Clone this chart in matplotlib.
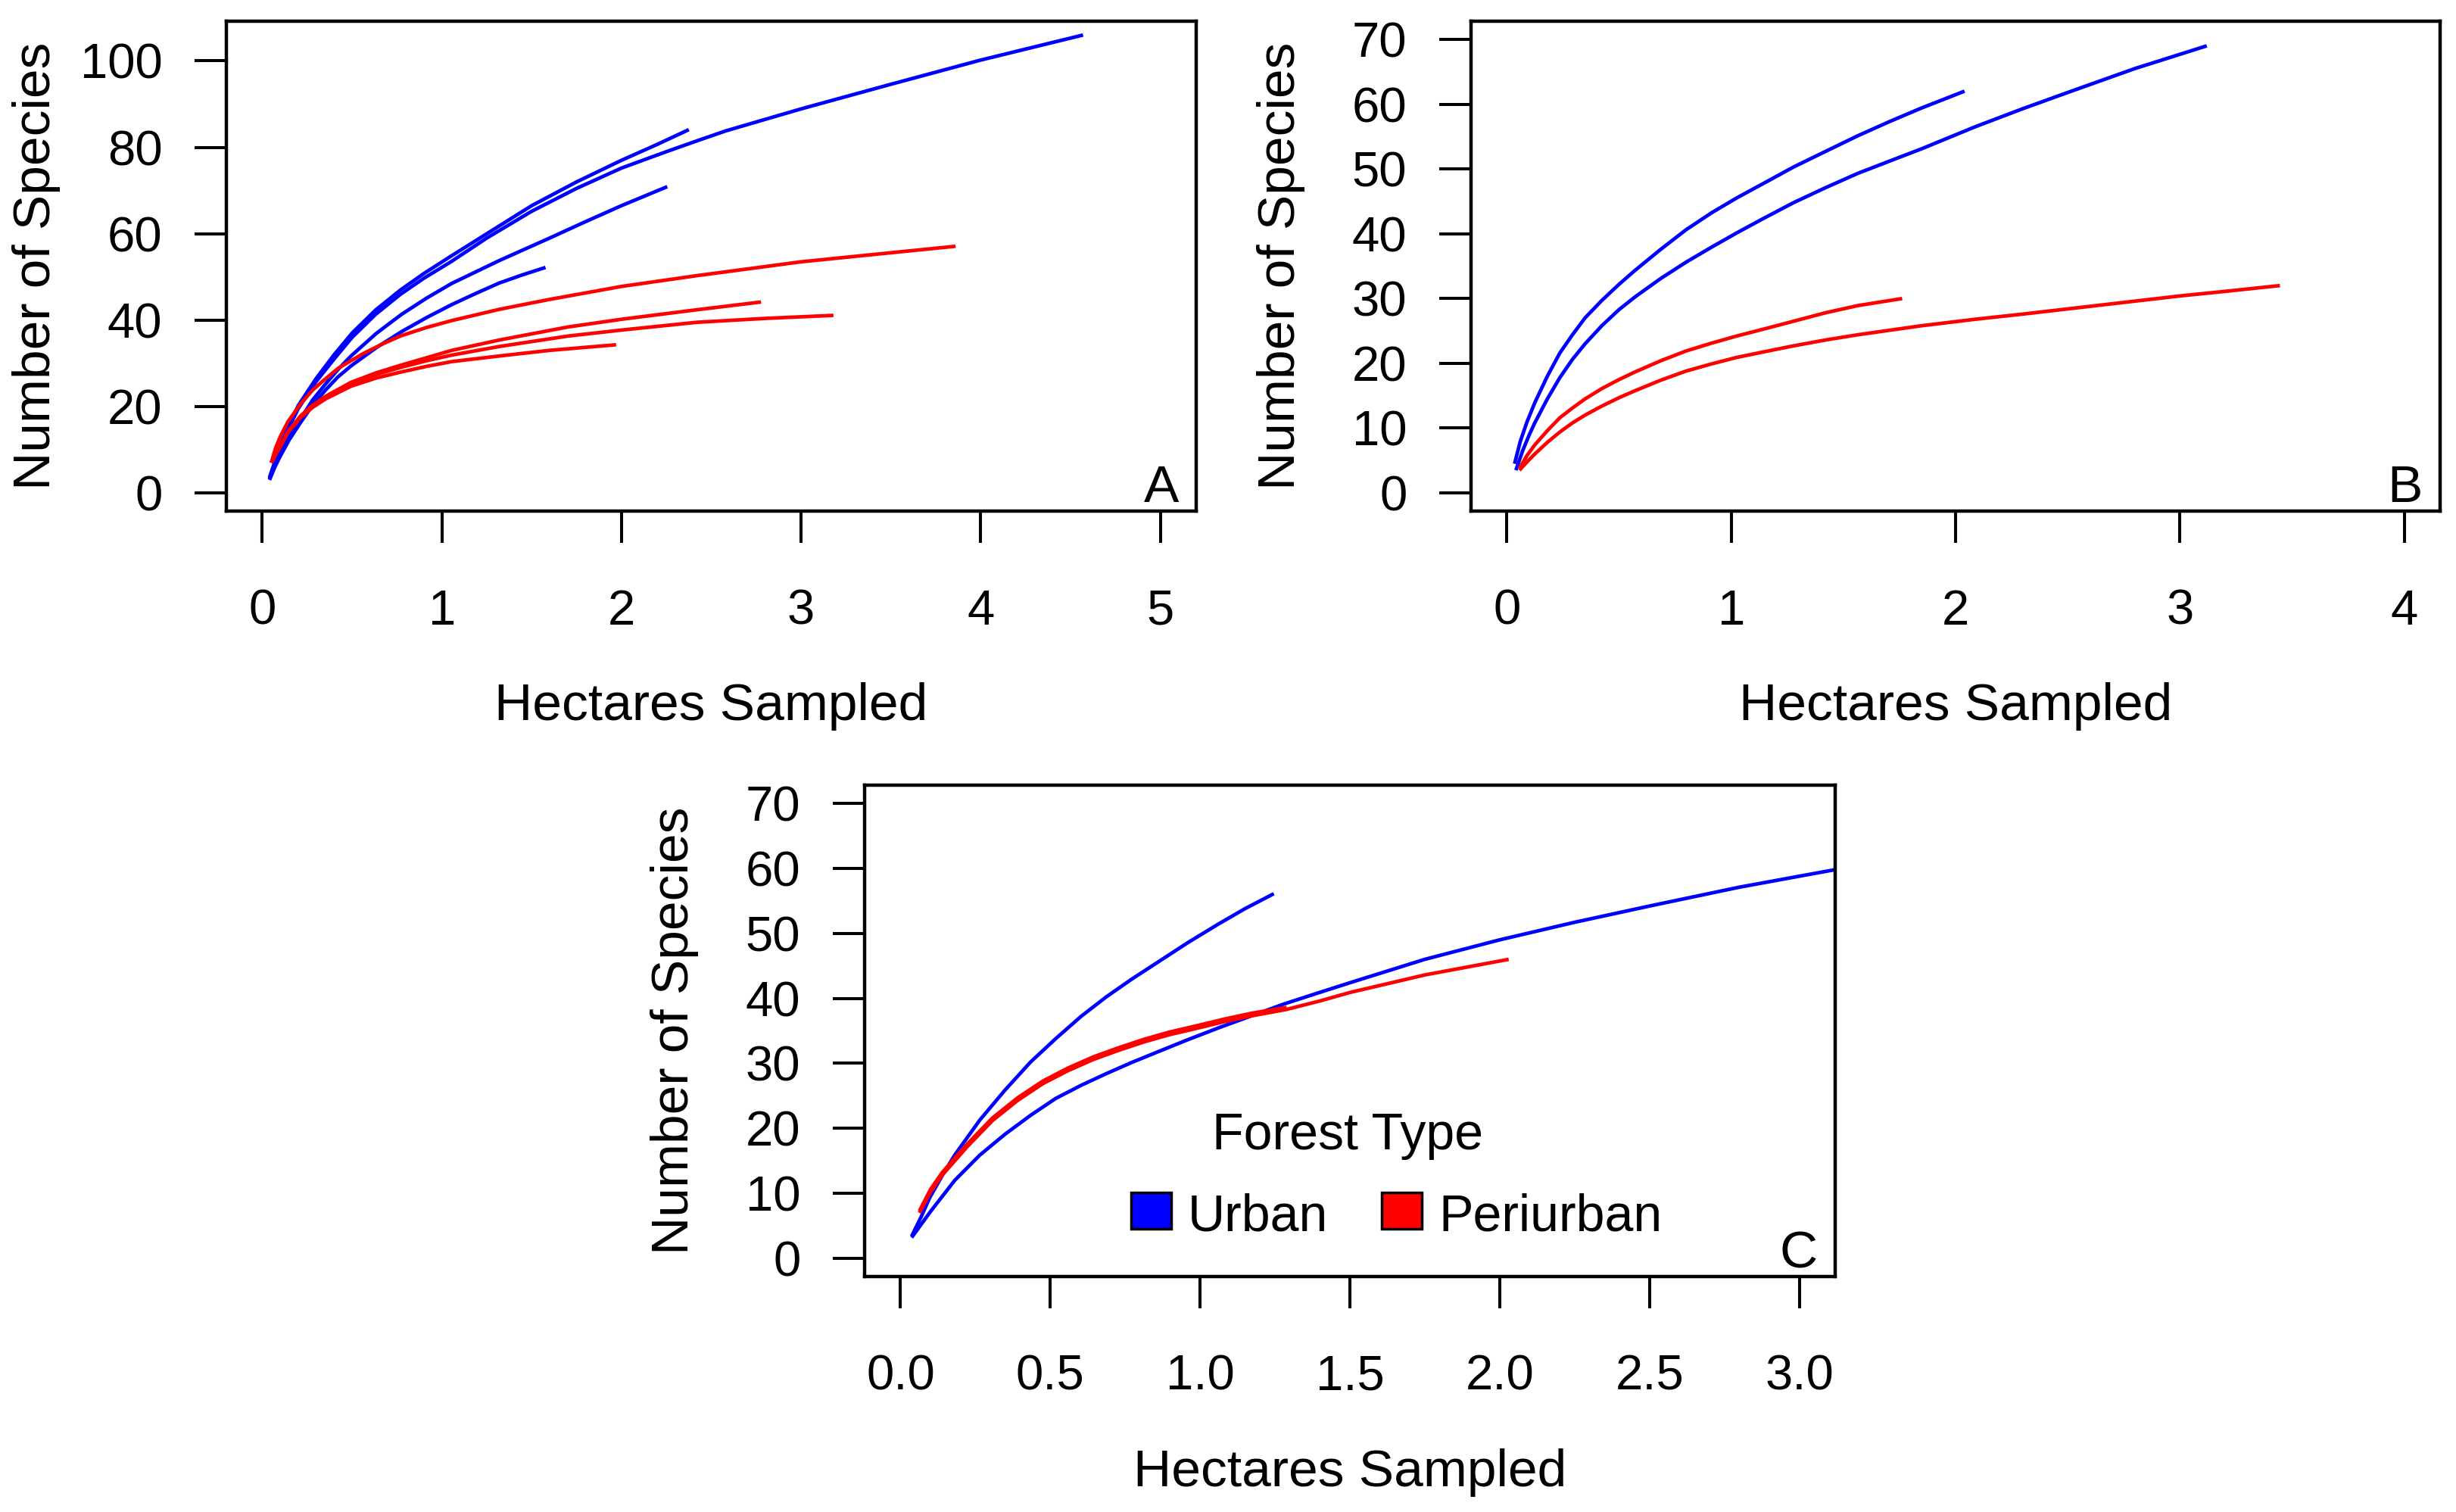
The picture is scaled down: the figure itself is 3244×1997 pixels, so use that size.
import matplotlib
matplotlib.use("Agg")
import matplotlib.pyplot as plt
from matplotlib.patches import Rectangle

plt.rcParams['font.family'] = ['Liberation Sans', 'DejaVu Sans']

# ---- panel A: rarefaction curves (hectares sampled, number of species) ----
a_urban_x = [
    [0.04, 0.07, 0.1, 0.15, 0.2, 0.3, 0.4, 0.5, 0.63, 0.77, 0.9, 1.05, 1.25, 1.5,
     1.75, 2.0, 2.25, 2.42, 2.58, 3.0, 3.5, 4.0, 4.57],
    [0.04, 0.07, 0.1, 0.15, 0.2, 0.3, 0.4, 0.5, 0.63, 0.77, 0.9, 1.05, 1.25, 1.5,
     1.75, 2.0, 2.2, 2.375],
    [0.04, 0.07, 0.1, 0.15, 0.213, 0.28, 0.354, 0.42, 0.494, 0.634, 0.774, 0.915,
     1.055, 1.32, 1.6, 1.8, 2.0, 2.255],
    [0.04, 0.07, 0.1, 0.15, 0.213, 0.28, 0.354, 0.42, 0.494, 0.634, 0.774, 0.915,
     1.055, 1.19, 1.32, 1.45, 1.577],
]
a_urban_y = [
    [3.5, 7, 10.5, 15.3, 19.5, 25.8, 31, 36, 41.3, 46, 49.7, 53.5, 59, 65.2,
     70.5, 75.2, 79, 81.5, 83.8, 88.9, 94.6, 100.2, 106],
    [3.5, 7.3, 11, 15.8, 20.2, 26.5, 32, 37, 42.3, 47, 50.8, 54.8, 60, 66.5,
     72, 77, 80.7, 84.1],
    [3.2, 6.3, 9, 13, 17.1, 21.5, 25.3, 28.5, 31.7, 36.9, 41.3, 45.1,
     48.5, 53.8, 59, 62.8, 66.5, 70.9],
    [3, 6, 8.5, 12.3, 16.3, 20.3, 23.9, 26.8, 29.4, 33.6, 37.3, 40.6,
     43.6, 46.2, 48.6, 50.5, 52.2],
]
a_peri_x = [
    [0.05, 0.075, 0.1, 0.143, 0.213, 0.28, 0.34, 0.424, 0.564, 0.67, 0.774, 0.915,
     1.055, 1.32, 1.6, 2.0, 2.42, 3.0, 3.5, 3.86],
    [0.05, 0.075, 0.1, 0.143, 0.213, 0.28, 0.354, 0.494, 0.634, 0.774, 0.915,
     1.055, 1.32, 1.7, 2.0, 2.42, 2.777],
    [0.05, 0.075, 0.1, 0.143, 0.213, 0.28, 0.354, 0.494, 0.634, 0.774, 0.915,
     1.055, 1.32, 1.7, 2.0, 2.42, 2.8, 3.18],
    [0.05, 0.075, 0.1, 0.143, 0.213, 0.28, 0.354, 0.494, 0.634, 0.774, 0.915,
     1.055, 1.32, 1.6, 1.97],
]
a_peri_y = [
    [7, 10.5, 13, 16.5, 20.6, 23.8, 26, 28.9, 32.3, 34.5, 36.4, 38.3,
     39.9, 42.5, 44.8, 47.8, 50.3, 53.5, 55.6, 57.1],
    [7, 9, 10.8, 14.2, 17.8, 20.3, 22.4, 25.6, 27.8, 29.6, 31.3,
     33.0, 35.4, 38.4, 40.2, 42.4, 44.2],
    [7, 9, 10.8, 14.1, 17.6, 20.1, 22.2, 25.3, 27.4, 29.1, 30.6,
     31.9, 33.9, 36.3, 37.7, 39.5, 40.4, 41.1],
    [7, 9, 10.7, 14, 17.4, 19.8, 21.8, 24.7, 26.6, 28, 29.3,
     30.4, 31.7, 33.0, 34.3],
]

# ---- panel B ----
b_urban_x = [
    [0.034, 0.06, 0.09, 0.124, 0.18, 0.236, 0.292, 0.348, 0.423, 0.5, 0.573, 0.686,
     0.798, 0.911, 1.023, 1.135, 1.278, 1.42, 1.563, 1.705, 1.848, 2.04],
    [0.04, 0.07, 0.1, 0.124, 0.18, 0.236, 0.292, 0.348, 0.423, 0.5, 0.573, 0.686,
     0.798, 0.911, 1.023, 1.135, 1.278, 1.42, 1.563, 1.705, 1.848, 2.087, 2.3,
     2.5, 2.8, 3.12],
]
b_urban_y = [
    [4.5, 8, 11, 13.9, 18, 21.6, 24.4, 27.0, 29.7, 32.2, 34.4, 37.6,
     40.6, 43.2, 45.5, 47.6, 50.3, 52.7, 55.1, 57.3, 59.4, 62.0],
    [3.5, 6.5, 9, 10.8, 14.5, 17.8, 20.6, 23, 25.8, 28.3, 30.3, 33.1,
     35.6, 37.9, 40.1, 42.2, 44.8, 47.1, 49.3, 51.2, 53.1, 56.5, 59.3,
     61.8, 65.5, 69.0],
]
b_peri_x = [
    [0.056, 0.09, 0.124, 0.18, 0.236, 0.292, 0.348, 0.423, 0.5, 0.573, 0.686,
     0.798, 0.911, 1.023, 1.135, 1.278, 1.42, 1.563, 1.762],
    [0.056, 0.09, 0.124, 0.18, 0.236, 0.292, 0.348, 0.423, 0.5, 0.573, 0.686,
     0.798, 0.911, 1.023, 1.135, 1.278, 1.42, 1.563, 1.705, 1.848, 2.087, 2.3,
     2.5, 2.75, 3.0, 3.2, 3.446],
]
b_peri_y = [
    [3.8, 5.8, 7.4, 9.6, 11.6, 13.1, 14.5, 16.1, 17.5, 18.7, 20.4,
     21.9, 23.1, 24.2, 25.2, 26.5, 27.8, 28.9, 30.0],
    [3.5, 4.8, 6.0, 7.8, 9.4, 10.8, 12.0, 13.4, 14.7, 15.8, 17.4,
     18.8, 19.9, 20.9, 21.7, 22.7, 23.6, 24.4, 25.1, 25.8, 26.8, 27.6,
     28.4, 29.4, 30.4, 31.1, 32.0],
]

# ---- panel C ----
c_urban_x = [
    [0.037, 0.07, 0.097, 0.14, 0.181, 0.265, 0.349, 0.434, 0.518, 0.602, 0.686,
     0.77, 0.86, 0.96, 1.06, 1.15, 1.246],
    [0.037, 0.07, 0.1, 0.181, 0.265, 0.349, 0.434, 0.518, 0.602, 0.686, 0.77,
     0.855, 0.957, 1.064, 1.171, 1.278, 1.385, 1.5, 1.75, 2.0, 2.25, 2.5, 2.8, 3.12],
]
c_urban_y = [
    [3.4, 6.5, 9.3, 12.8, 15.9, 21.3, 25.9, 30.2, 33.8, 37.2, 40.2,
     42.9, 45.6, 48.6, 51.4, 53.8, 56.1],
    [3.2, 5.3, 7.2, 12, 15.9, 19.1, 22, 24.6, 26.6, 28.4, 30.1,
     31.7, 33.6, 35.5, 37.3, 39.1, 40.7, 42.4, 46.0, 49.0, 51.7, 54.2, 57.1, 59.8],
]
c_peri_x = [
    [0.063, 0.1, 0.139, 0.223, 0.307, 0.391, 0.476, 0.56, 0.644, 0.728, 0.813,
     0.897, 0.99, 1.08, 1.171, 1.289],
    [0.063, 0.1, 0.139, 0.223, 0.307, 0.391, 0.476, 0.56, 0.644, 0.728, 0.813,
     0.897, 0.99, 1.08, 1.171, 1.289, 1.4, 1.5, 1.75, 2.03],
]
c_peri_y = [
    [7.3, 10.6, 13.2, 17.6, 21.6, 24.7, 27.3, 29.3, 31.0, 32.4, 33.7,
     34.8, 35.8, 36.8, 37.7, 38.6],
    [7.0, 10.2, 12.8, 17.2, 21.2, 24.3, 26.9, 28.9, 30.6, 32.0, 33.3,
     34.4, 35.4, 36.4, 37.3, 38.3, 39.6, 40.9, 43.6, 46.0],
]

URBAN = '#0000FF'
PERI = '#FF0000'
W, H = 3244, 1997

fig = plt.figure(figsize=(W / 100, H / 100), dpi=100)


def px_axes(left, top, right, bottom):
    return fig.add_axes([left / W, 1 - bottom / H, (right - left) / W, (bottom - top) / H])


def style(ax, xlim, ylim, xticks, yticks, xlabels, letter):
    ax.set_xlim(*xlim)
    ax.set_ylim(*ylim)
    ax.set_xticks(xticks)
    ax.set_xticklabels(xlabels)
    ax.set_yticks(yticks)
    for s in ax.spines.values():
        s.set_linewidth(3.2)
        s.set_color('black')
    ax.tick_params(direction='out', length=30, width=2.9, labelsize=47, color='black')
    ax.tick_params(axis='x', pad=44)
    ax.tick_params(axis='y', pad=31)
    ax.set_xlabel('Hectares Sampled', fontsize=50)
    ax.set_ylabel('Number of Species', fontsize=50)
    ax.xaxis.set_label_coords(0.5, -0.35)
    ax.yaxis.set_label_coords(-0.171, 0.5)
    ax.text(0.982, 0.018, letter, transform=ax.transAxes, ha='right', va='baseline', fontsize=50)


def draw(ax, xs_u, ys_u, xs_p, ys_p):
    for xs, ys in zip(xs_u, ys_u):
        ax.plot(xs, ys, color=URBAN, lw=3.4, solid_capstyle='butt', solid_joinstyle='round')
    for xs, ys in zip(xs_p, ys_p):
        ax.plot(xs, ys, color=PERI, lw=3.4, solid_capstyle='butt', solid_joinstyle='round')


axA = px_axes(299, 28, 1580, 675)
draw(axA, a_urban_x, a_urban_y, a_peri_x, a_peri_y)
style(axA, (-0.2, 5.2), (-4.2, 109.2), range(0, 6), range(0, 101, 20),
      [str(v) for v in range(0, 6)], 'A')

axB = px_axes(1943, 28, 3223, 675)
draw(axB, b_urban_x, b_urban_y, b_peri_x, b_peri_y)
style(axB, (-0.16, 4.16), (-2.8, 72.8), range(0, 5), range(0, 71, 10),
      [str(v) for v in range(0, 5)], 'B')

axC = px_axes(1142, 1037, 2424, 1686)
draw(axC, c_urban_x, c_urban_y, c_peri_x, c_peri_y)
cticks = [i * 0.5 for i in range(7)]
style(axC, (-0.12, 3.12), (-2.8, 72.8), cticks, range(0, 71, 10),
      ['%.1f' % v for v in cticks], 'C')

# legend drawn like R's legend(): title over two filled boxes
fig.text(1780 / W, 1 - 1518 / H, 'Forest Type', ha='center', va='baseline', fontsize=49)
for x0, col, lab in [(1494, URBAN, 'Urban'), (1825, PERI, 'Periurban')]:
    fig.patches.append(Rectangle((x0 / W, 1 - 1623 / H), 53 / W, 48 / H,
                                 transform=fig.transFigure, facecolor=col,
                                 edgecolor='black', lw=2.5))
    fig.text((x0 + 75) / W, 1 - 1625 / H, lab, ha='left', va='baseline', fontsize=49)

fig.savefig('out.png', dpi=100, facecolor='white')
